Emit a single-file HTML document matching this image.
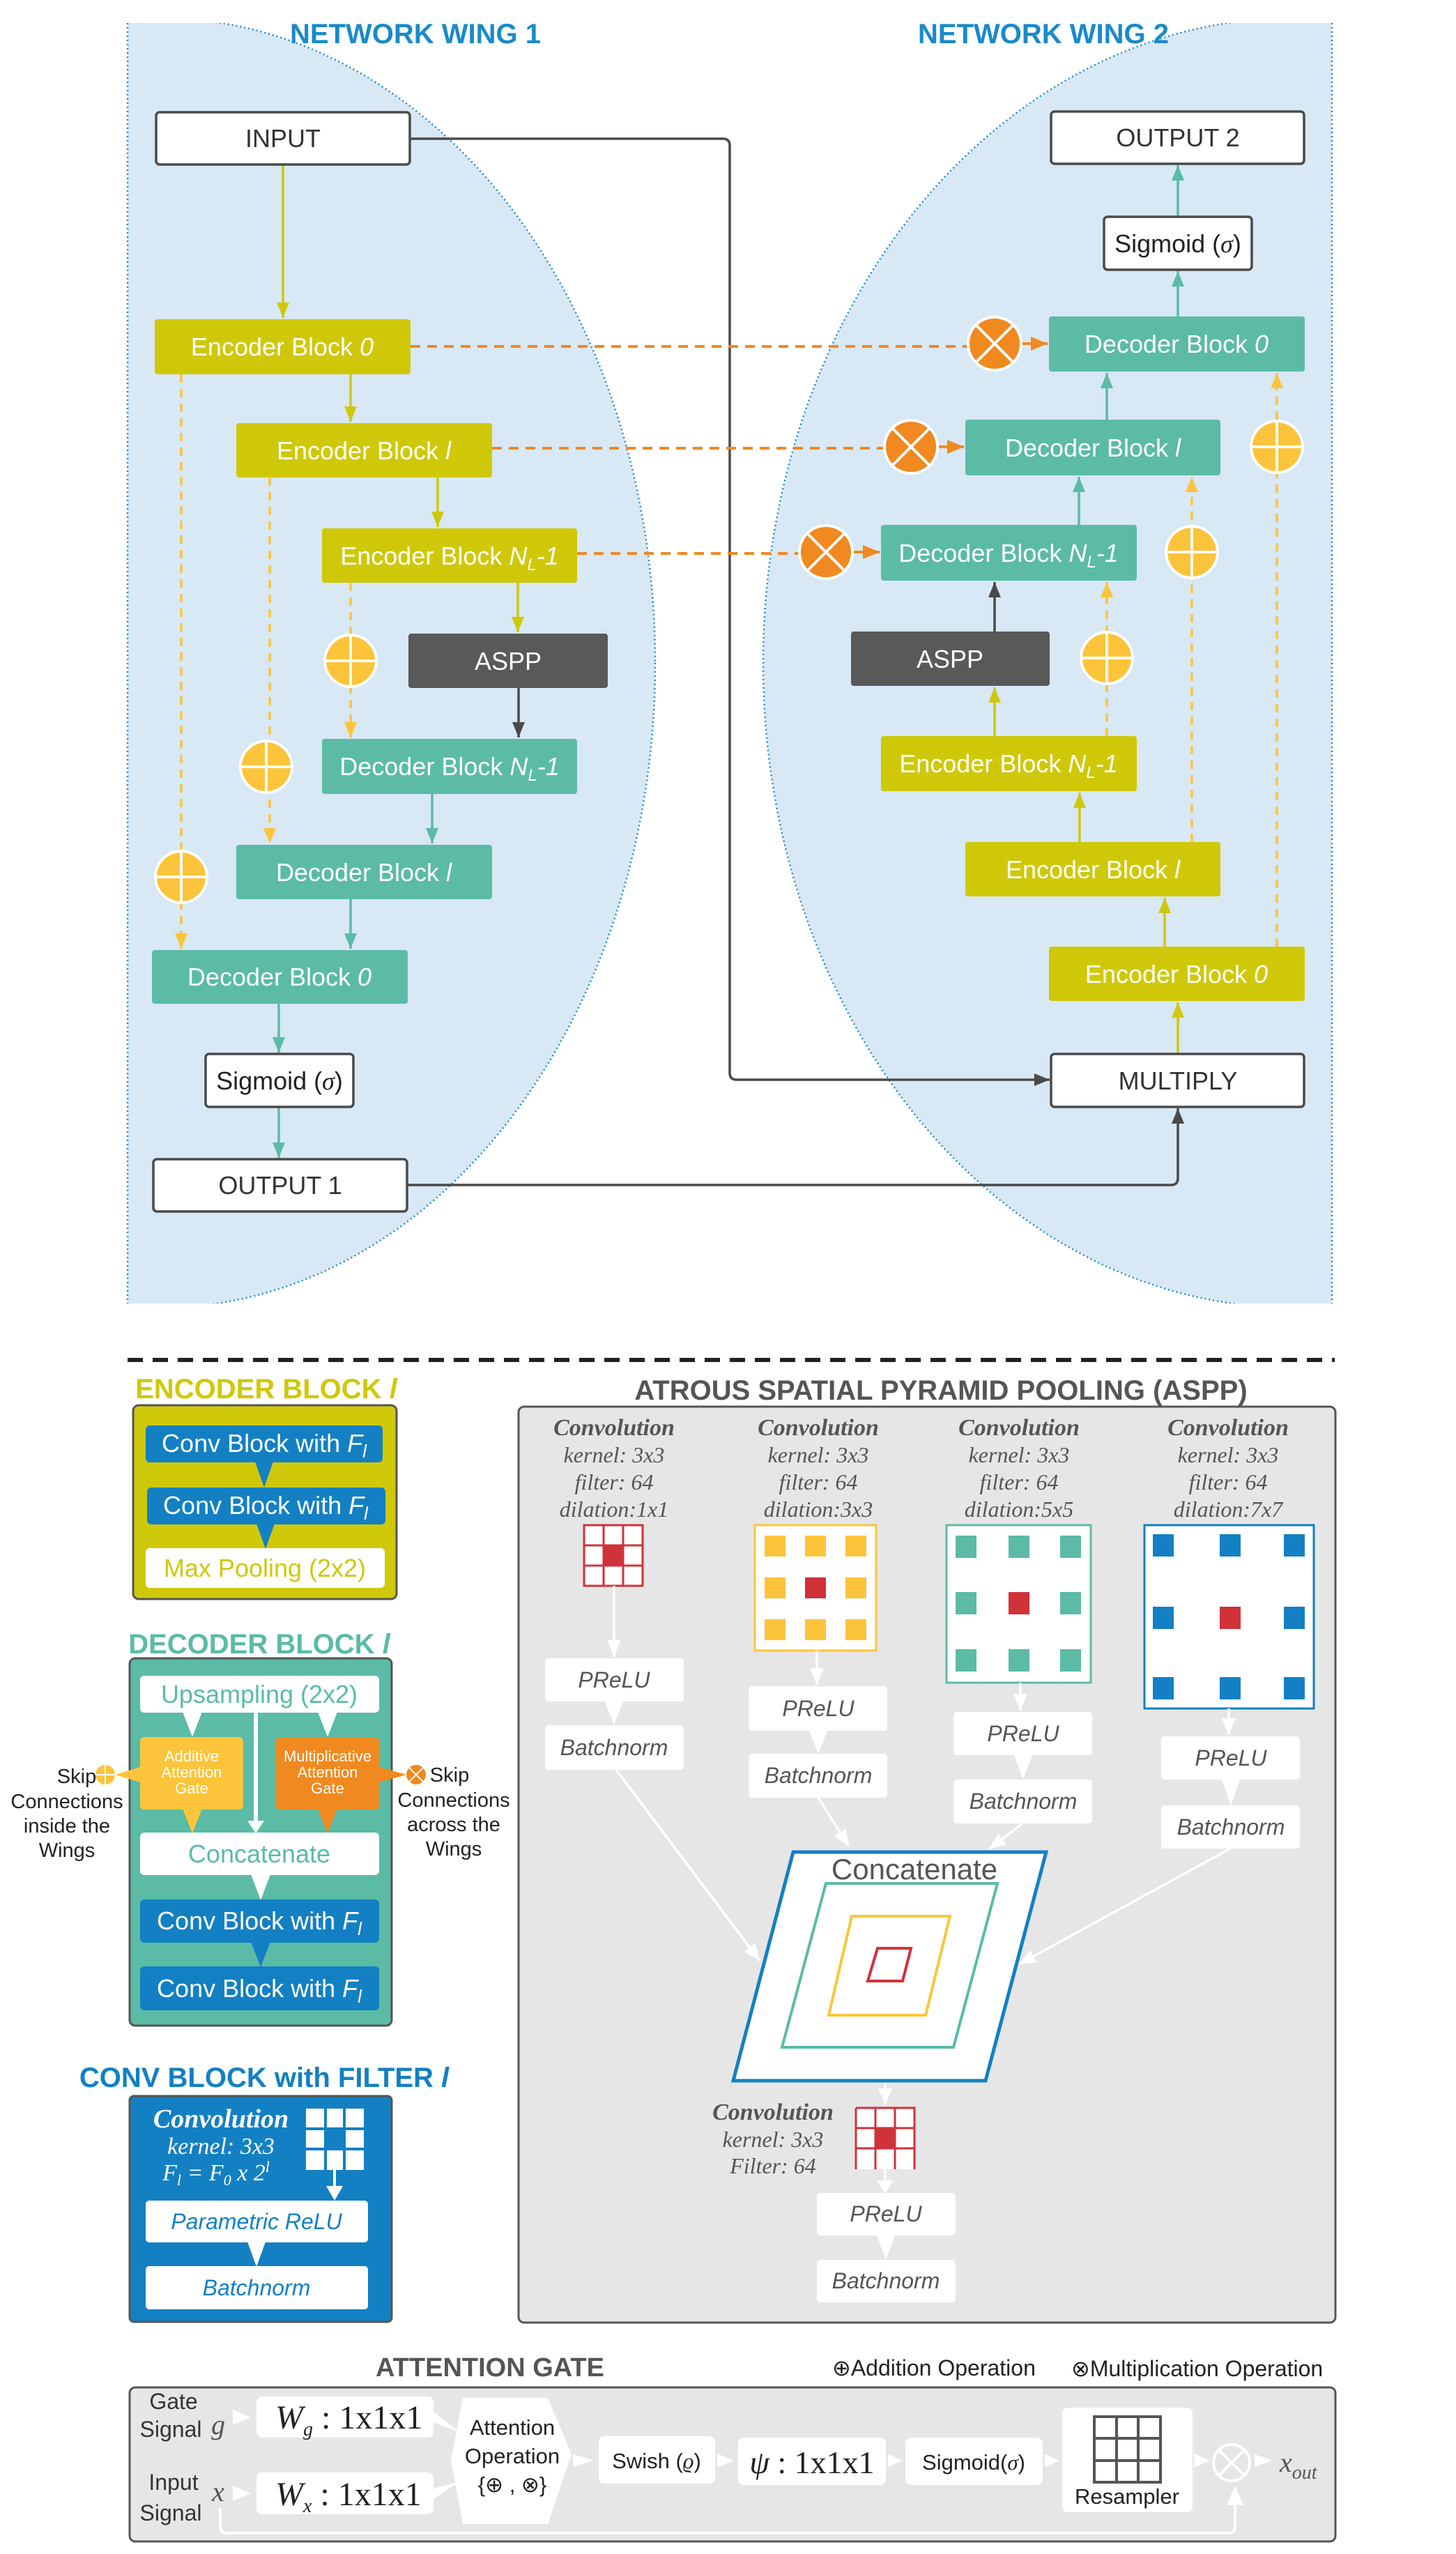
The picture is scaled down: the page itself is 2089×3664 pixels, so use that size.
<!DOCTYPE html>
<html><head><meta charset="utf-8"><style>
html,body{margin:0;padding:0;background:#fff}
svg{display:block}
text{font-family:"Liberation Sans",sans-serif}
.s{font-family:"Liberation Serif",serif}
</style></head><body>
<svg width="2089" height="3664" viewBox="0 0 2089 3664" xmlns="http://www.w3.org/2000/svg">
<defs>
<clipPath id="c1"><rect x="183" y="33" width="900" height="1837"/></clipPath>
<clipPath id="c2"><rect x="1000" y="33" width="911" height="1837"/></clipPath>
<marker id="aY" markerUnits="userSpaceOnUse" markerWidth="26" markerHeight="26" refX="22" refY="11" orient="auto"><path d="M0,2 L22,11 L0,20 Z" fill="#cfc809"/></marker>
<marker id="aT" markerUnits="userSpaceOnUse" markerWidth="26" markerHeight="26" refX="22" refY="11" orient="auto"><path d="M0,2 L22,11 L0,20 Z" fill="#5bbba5"/></marker>
<marker id="aG" markerUnits="userSpaceOnUse" markerWidth="26" markerHeight="26" refX="22" refY="11" orient="auto"><path d="M0,2 L22,11 L0,20 Z" fill="#4a4a4a"/></marker>
<marker id="aO" markerUnits="userSpaceOnUse" markerWidth="30" markerHeight="30" refX="24" refY="12" orient="auto"><path d="M0,2 L24,12 L0,22 Z" fill="#f0891f"/></marker>
<marker id="aP" markerUnits="userSpaceOnUse" markerWidth="26" markerHeight="26" refX="22" refY="11" orient="auto"><path d="M0,2 L22,11 L0,20 Z" fill="#fcc43a"/></marker>
<marker id="aW" markerUnits="userSpaceOnUse" markerWidth="30" markerHeight="30" refX="24" refY="12" orient="auto"><path d="M0,2 L24,12 L0,22 Z" fill="#fff"/></marker>
<g id="plus"><circle r="37" fill="#fcc43a" stroke="#fff" stroke-width="4"/><path d="M-37,0H37M0,-37V37" stroke="#fff" stroke-width="4"/></g>
<g id="mul"><circle r="38" fill="#f0891f" stroke="#fff" stroke-width="4"/><path d="M-27,-27L27,27M27,-27L-27,27" stroke="#fff" stroke-width="4"/></g>
</defs>

<!-- wings -->
<g clip-path="url(#c1)"><ellipse cx="230" cy="951" rx="710" ry="925" fill="#d8e8f5" stroke="#1a8ac9" stroke-width="2.5" stroke-dasharray="2,4"/></g>
<path d="M183,33V1870" stroke="#1a8ac9" stroke-width="2.5" stroke-dasharray="2,4"/>
<g clip-path="url(#c2)"><ellipse cx="1855" cy="951" rx="760" ry="925" fill="#d8e8f5" stroke="#1a8ac9" stroke-width="2.5" stroke-dasharray="2,4"/></g>
<path d="M1911,33V1870" stroke="#1a8ac9" stroke-width="2.5" stroke-dasharray="2,4"/>
<text x="596" y="62" font-size="40" font-weight="bold" fill="#1a8ac9" text-anchor="middle">NETWORK WING 1</text>
<text x="1497" y="62" font-size="40" font-weight="bold" fill="#1a8ac9" text-anchor="middle">NETWORK WING 2</text>

<!-- long connectors -->
<path d="M588,199H1037Q1047,199 1047,209V1539Q1047,1549 1057,1549H1506" fill="none" stroke="#4a4a4a" stroke-width="3.5" marker-end="url(#aG)"/>
<path d="M584,1700H1680Q1690,1700 1690,1690V1590" fill="none" stroke="#4a4a4a" stroke-width="3.5" marker-end="url(#aG)"/>

<!-- dashed skips -->
<g stroke="#fcc43a" stroke-width="3.5" stroke-dasharray="12,9" fill="none">
<path d="M260,537V1361" marker-end="url(#aP)"/>
<path d="M387,685V1210" marker-end="url(#aP)"/>
<path d="M503,836V1058" marker-end="url(#aP)"/>
<path d="M1832,1358V535" marker-end="url(#aP)"/>
<path d="M1710,1208V684" marker-end="url(#aP)"/>
<path d="M1588,1056V835" marker-end="url(#aP)"/>
</g>
<g stroke="#f0891f" stroke-width="4" stroke-dasharray="14,10" fill="none">
<path d="M589,497H1389"/><path d="M706,643H1269"/><path d="M828,794H1147"/>
</g>
<g stroke="#f0891f" stroke-width="4" fill="none">
<path d="M1465,493H1503" marker-end="url(#aO)"/><path d="M1345,641H1383" marker-end="url(#aO)"/><path d="M1223,792H1262" marker-end="url(#aO)"/>
</g>
<use href="#mul" x="1427" y="493"/><use href="#mul" x="1307" y="641"/><use href="#mul" x="1185" y="792"/>
<use href="#plus" x="503" y="948"/><use href="#plus" x="382" y="1100"/><use href="#plus" x="260" y="1258"/>
<use href="#plus" x="1832" y="641"/><use href="#plus" x="1710" y="792"/><use href="#plus" x="1588" y="944"/>

<!-- vertical arrows -->
<g stroke-width="3.5" fill="none">
<path d="M406,236V456" stroke="#cfc809" marker-end="url(#aY)"/>
<path d="M503,537V605" stroke="#cfc809" marker-end="url(#aY)"/>
<path d="M628,685V756" stroke="#cfc809" marker-end="url(#aY)"/>
<path d="M743,836V907" stroke="#cfc809" marker-end="url(#aY)"/>
<path d="M744,987V1058" stroke="#4a4a4a" marker-end="url(#aG)"/>
<path d="M620,1139V1210" stroke="#5bbba5" marker-end="url(#aT)"/>
<path d="M503,1290V1361" stroke="#5bbba5" marker-end="url(#aT)"/>
<path d="M400,1440V1510" stroke="#5bbba5" marker-end="url(#aT)"/>
<path d="M400,1588V1661" stroke="#5bbba5" marker-end="url(#aT)"/>
<path d="M1690,1512V1438" stroke="#cfc809" marker-end="url(#aY)"/>
<path d="M1671,1358V1288" stroke="#cfc809" marker-end="url(#aY)"/>
<path d="M1549,1208V1137" stroke="#cfc809" marker-end="url(#aY)"/>
<path d="M1427,1056V986" stroke="#cfc809" marker-end="url(#aY)"/>
<path d="M1427,906V835" stroke="#4a4a4a" marker-end="url(#aG)"/>
<path d="M1548,753V684" stroke="#5bbba5" marker-end="url(#aT)"/>
<path d="M1588,602V535" stroke="#5bbba5" marker-end="url(#aT)"/>
<path d="M1690,454V389" stroke="#5bbba5" marker-end="url(#aT)"/>
<path d="M1690,311V237" stroke="#5bbba5" marker-end="url(#aT)"/>
</g>

<!-- top boxes -->
<g font-size="36" text-anchor="middle">
<rect x="224" y="161" width="364" height="75" rx="5" fill="#fff" stroke="#4a4a4a" stroke-width="3.5"/><text x="406" y="211" fill="#333">INPUT</text>
<rect x="222" y="458" width="367" height="79" rx="4" fill="#cfc809"/><text x="405" y="510" fill="#fff">Encoder Block <tspan font-style="italic">0</tspan></text>
<rect x="339" y="607" width="367" height="78" rx="4" fill="#cfc809"/><text x="522" y="659" fill="#fff">Encoder Block <tspan font-style="italic">l</tspan></text>
<rect x="462" y="758" width="366" height="78" rx="4" fill="#cfc809"/><text x="645" y="810" fill="#fff">Encoder Block <tspan font-style="italic">N<tspan font-size="24" dy="8">L</tspan><tspan dy="-8">-1</tspan></tspan></text>
<rect x="586" y="909" width="286" height="78" rx="4" fill="#595959"/><text x="729" y="961" fill="#fff">ASPP</text>
<rect x="462" y="1060" width="366" height="79" rx="4" fill="#5bbba5"/><text x="645" y="1112" fill="#fff">Decoder Block <tspan font-style="italic">N<tspan font-size="24" dy="8">L</tspan><tspan dy="-8">-1</tspan></tspan></text>
<rect x="339" y="1212" width="367" height="78" rx="4" fill="#5bbba5"/><text x="522" y="1264" fill="#fff">Decoder Block <tspan font-style="italic">l</tspan></text>
<rect x="218" y="1363" width="367" height="77" rx="4" fill="#5bbba5"/><text x="401" y="1414" fill="#fff">Decoder Block <tspan font-style="italic">0</tspan></text>
<rect x="295" y="1512" width="212" height="76" rx="5" fill="#fff" stroke="#4a4a4a" stroke-width="3.5"/><text x="401" y="1563" fill="#222">Sigmoid (<tspan class="s" font-style="italic">σ</tspan>)</text>
<rect x="220" y="1663" width="364" height="75" rx="5" fill="#fff" stroke="#4a4a4a" stroke-width="3.5"/><text x="402" y="1713" fill="#333">OUTPUT 1</text>

<rect x="1508" y="160" width="363" height="75" rx="5" fill="#fff" stroke="#4a4a4a" stroke-width="3.5"/><text x="1690" y="210" fill="#333">OUTPUT 2</text>
<rect x="1584" y="311" width="212" height="76" rx="5" fill="#fff" stroke="#4a4a4a" stroke-width="3.5"/><text x="1690" y="362" fill="#222">Sigmoid (<tspan class="s" font-style="italic">σ</tspan>)</text>
<rect x="1505" y="454" width="367" height="79" rx="4" fill="#5bbba5"/><text x="1688" y="506" fill="#fff">Decoder Block <tspan font-style="italic">0</tspan></text>
<rect x="1385" y="602" width="366" height="80" rx="4" fill="#5bbba5"/><text x="1568" y="655" fill="#fff">Decoder Block <tspan font-style="italic">l</tspan></text>
<rect x="1264" y="753" width="367" height="80" rx="4" fill="#5bbba5"/><text x="1447" y="806" fill="#fff">Decoder Block <tspan font-style="italic">N<tspan font-size="24" dy="8">L</tspan><tspan dy="-8">-1</tspan></tspan></text>
<rect x="1221" y="906" width="285" height="78" rx="4" fill="#595959"/><text x="1363" y="958" fill="#fff">ASPP</text>
<rect x="1264" y="1056" width="367" height="79" rx="4" fill="#cfc809"/><text x="1447" y="1108" fill="#fff">Encoder Block <tspan font-style="italic">N<tspan font-size="24" dy="8">L</tspan><tspan dy="-8">-1</tspan></tspan></text>
<rect x="1385" y="1208" width="366" height="78" rx="4" fill="#cfc809"/><text x="1568" y="1260" fill="#fff">Encoder Block <tspan font-style="italic">l</tspan></text>
<rect x="1505" y="1358" width="367" height="78" rx="4" fill="#cfc809"/><text x="1688" y="1410" fill="#fff">Encoder Block <tspan font-style="italic">0</tspan></text>
<rect x="1508" y="1512" width="363" height="76" rx="5" fill="#fff" stroke="#4a4a4a" stroke-width="3.5"/><text x="1690" y="1563" fill="#333">MULTIPLY</text>
</g>

<!-- separator -->
<path d="M183,1951H1915" stroke="#222" stroke-width="6" stroke-dasharray="22,14"/>

<!-- ENCODER BLOCK -->
<text x="382" y="2006" font-size="40" font-weight="bold" fill="#cfc809" text-anchor="middle">ENCODER BLOCK <tspan font-style="italic">l</tspan></text>
<rect x="191" y="2016" width="378" height="278" rx="8" fill="#cfc809" stroke="#555" stroke-width="3"/>
<rect x="209" y="2045" width="340" height="53" rx="6" fill="#1380c3"/>
<path d="M366,2097L392,2097L379,2134Z" fill="#1380c3"/>
<rect x="211" y="2134" width="342" height="53" rx="6" fill="#1380c3"/>
<path d="M368,2186L394,2186L381,2222Z" fill="#1380c3"/>
<rect x="209" y="2221" width="343" height="57" rx="6" fill="#fff"/>
<g font-size="36" text-anchor="middle">
<text x="379" y="2083" fill="#fff">Conv Block with <tspan font-style="italic">F<tspan font-size="26" dy="8">l</tspan></tspan></text>
<text x="381" y="2172" fill="#fff">Conv Block with <tspan font-style="italic">F<tspan font-size="26" dy="8">l</tspan></tspan></text>
<text x="380" y="2262" fill="#cfc809">Max Pooling (2x2)</text>
</g>

<!-- DECODER BLOCK -->
<text x="372" y="2372" font-size="40" font-weight="bold" fill="#5bbba5" text-anchor="middle">DECODER BLOCK <tspan font-style="italic">l</tspan></text>
<rect x="186" y="2379" width="376" height="527" rx="8" fill="#5bbba5" stroke="#555" stroke-width="3"/>
<rect x="201" y="2404" width="343" height="53" rx="6" fill="#fff"/>
<path d="M262,2456L290,2456L276,2492Z" fill="#fff"/><path d="M456,2456L484,2456L470,2492Z" fill="#fff"/>
<path d="M367,2457V2615" stroke="#fff" stroke-width="6"/><path d="M355,2612L379,2612L367,2630Z" fill="#fff"/>
<rect x="201" y="2492" width="148" height="104" rx="6" fill="#fcc43a"/>
<rect x="396" y="2492" width="148" height="104" rx="6" fill="#f0891f"/>
<path d="M262,2595L290,2595L276,2630Z" fill="#fcc43a"/><path d="M456,2595L484,2595L470,2630Z" fill="#f0891f"/>
<rect x="201" y="2629" width="343" height="61" rx="6" fill="#fff"/>
<path d="M360,2689L388,2689L374,2726Z" fill="#fff"/>
<rect x="201" y="2725" width="343" height="62" rx="6" fill="#1380c3"/>
<path d="M360,2786L388,2786L374,2822Z" fill="#1380c3"/>
<rect x="201" y="2821" width="343" height="63" rx="6" fill="#1380c3"/>
<g text-anchor="middle">
<text x="372" y="2443" font-size="36" fill="#5bbba5">Upsampling (2x2)</text>
<text x="275" y="2527" font-size="22" fill="#fff">Additive</text><text x="275" y="2550" font-size="22" fill="#fff">Attention</text><text x="275" y="2573" font-size="22" fill="#fff">Gate</text>
<text x="470" y="2527" font-size="22" fill="#fff">Multiplicative</text><text x="470" y="2550" font-size="22" fill="#fff">Attention</text><text x="470" y="2573" font-size="22" fill="#fff">Gate</text>
<text x="372" y="2672" font-size="36" fill="#5bbba5">Concatenate</text>
<text x="372" y="2768" font-size="36" fill="#fff">Conv Block with <tspan font-style="italic">F<tspan font-size="26" dy="8">l</tspan></tspan></text>
<text x="372" y="2865" font-size="36" fill="#fff">Conv Block with <tspan font-style="italic">F<tspan font-size="26" dy="8">l</tspan></tspan></text>
</g>
<!-- side labels -->
<path d="M165,2546L201,2535L201,2557Z" fill="#fcc43a"/>
<circle cx="151" cy="2546" r="15" fill="#fcc43a" stroke="#fff" stroke-width="2"/><path d="M136,2546H166M151,2531V2561" stroke="#fff" stroke-width="2"/>
<path d="M583,2546L544,2535L544,2557Z" fill="#f0891f"/>
<circle cx="597" cy="2546" r="15" fill="#f0891f" stroke="#fff" stroke-width="2"/><path d="M587,2536L607,2556M607,2536L587,2556" stroke="#fff" stroke-width="2"/>
<g font-size="29" fill="#222" text-anchor="middle">
<text x="110" y="2558">Skip</text><text x="96" y="2594">Connections</text><text x="96" y="2629">inside the</text><text x="96" y="2664">Wings</text>
<text x="645" y="2556">Skip</text><text x="651" y="2592">Connections</text><text x="651" y="2627">across the</text><text x="651" y="2662">Wings</text>
</g>

<!-- CONV BLOCK -->
<text x="379" y="2994" font-size="40" font-weight="bold" fill="#1380c3" text-anchor="middle">CONV BLOCK with FILTER <tspan font-style="italic">l</tspan></text>
<rect x="186" y="3007" width="376" height="324" rx="6" fill="#1380c3" stroke="#555" stroke-width="3"/>
<g class="s" font-style="italic" fill="#fff" text-anchor="middle">
<text x="317" y="3052" font-size="38" font-weight="bold" class="s">Convolution</text>
<text x="317" y="3090" font-size="34" class="s">kernel: 3x3</text>
<text x="310" y="3128" font-size="34" class="s">F<tspan font-size="22" dy="7">l</tspan><tspan dy="-7"> = F</tspan><tspan font-size="22" dy="7">0</tspan><tspan dy="-7"> x 2</tspan><tspan font-size="22" dy="-12">l</tspan></text>
</g>
<g fill="#fff"><rect x="439" y="3025" width="83" height="88"/></g>
<g stroke="#1380c3" stroke-width="4" fill="none"><path d="M467,3025V3113M494,3025V3113M439,3054H522M439,3083H522"/></g>
<rect x="469" y="3056" width="23" height="25" fill="#1380c3"/>
<path d="M480,3113V3140" stroke="#fff" stroke-width="4"/><path d="M468,3136L492,3136L480,3157Z" fill="#fff"/>
<rect x="209" y="3157" width="319" height="60" rx="5" fill="#fff"/>
<path d="M355,3216L381,3216L368,3252Z" fill="#fff"/>
<rect x="209" y="3251" width="319" height="62" rx="5" fill="#fff"/>
<text x="368" y="3198" font-size="32" font-style="italic" fill="#1380c3" text-anchor="middle">Parametric ReLU</text>
<text x="368" y="3293" font-size="32" font-style="italic" fill="#1380c3" text-anchor="middle">Batchnorm</text>

<!-- ASPP -->
<text x="1350" y="2008" font-size="40" font-weight="bold" fill="#555" text-anchor="middle">ATROUS SPATIAL PYRAMID POOLING (ASPP)</text>
<rect x="744" y="2018" width="1172" height="1314" rx="8" fill="#e6e6e6" stroke="#555" stroke-width="3"/>
<g class="s" font-style="italic" fill="#555" text-anchor="middle" font-size="32">
<text x="881" y="2059" font-weight="bold" font-size="34" class="s">Convolution</text><text x="881" y="2098" class="s">kernel: 3x3</text><text x="881" y="2137" class="s">filter: 64</text><text x="881" y="2176" class="s">dilation:1x1</text>
<text x="1174" y="2059" font-weight="bold" font-size="34" class="s">Convolution</text><text x="1174" y="2098" class="s">kernel: 3x3</text><text x="1174" y="2137" class="s">filter: 64</text><text x="1174" y="2176" class="s">dilation:3x3</text>
<text x="1462" y="2059" font-weight="bold" font-size="34" class="s">Convolution</text><text x="1462" y="2098" class="s">kernel: 3x3</text><text x="1462" y="2137" class="s">filter: 64</text><text x="1462" y="2176" class="s">dilation:5x5</text>
<text x="1762" y="2059" font-weight="bold" font-size="34" class="s">Convolution</text><text x="1762" y="2098" class="s">kernel: 3x3</text><text x="1762" y="2137" class="s">filter: 64</text><text x="1762" y="2176" class="s">dilation:7x7</text>
</g>
<!-- grid1 -->
<rect x="838" y="2188" width="84" height="87" fill="#fff" stroke="#d0323a" stroke-width="3"/>
<rect x="866" y="2217" width="28" height="29" fill="#d0323a"/>
<path d="M866,2188V2275M894,2188V2275M838,2217H922M838,2246H922" stroke="#d0323a" stroke-width="3"/>
<!-- grid2 -->
<rect x="1083" y="2188" width="174" height="180" fill="#fff" stroke="#fcc43a" stroke-width="3"/>
<g fill="#fcc43a"><rect x="1097" y="2203" width="30" height="30"/><rect x="1155" y="2203" width="30" height="30"/><rect x="1213" y="2203" width="30" height="30"/><rect x="1097" y="2263" width="30" height="30"/><rect x="1213" y="2263" width="30" height="30"/><rect x="1097" y="2323" width="30" height="30"/><rect x="1155" y="2323" width="30" height="30"/><rect x="1213" y="2323" width="30" height="30"/></g>
<rect x="1155" y="2263" width="30" height="30" fill="#d0323a"/>
<!-- grid3 -->
<rect x="1358" y="2188" width="207" height="226" fill="#fff" stroke="#5bbba5" stroke-width="3"/>
<g fill="#5bbba5"><rect x="1371" y="2203" width="30" height="32"/><rect x="1447" y="2203" width="30" height="32"/><rect x="1521" y="2203" width="30" height="32"/><rect x="1371" y="2284" width="30" height="32"/><rect x="1521" y="2284" width="30" height="32"/><rect x="1371" y="2366" width="30" height="32"/><rect x="1447" y="2366" width="30" height="32"/><rect x="1521" y="2366" width="30" height="32"/></g>
<rect x="1447" y="2284" width="30" height="32" fill="#d0323a"/>
<!-- grid4 -->
<rect x="1642" y="2188" width="243" height="263" fill="#fff" stroke="#1380c3" stroke-width="3"/>
<g fill="#1380c3"><rect x="1654" y="2201" width="30" height="32"/><rect x="1750" y="2201" width="30" height="32"/><rect x="1842" y="2201" width="30" height="32"/><rect x="1654" y="2305" width="30" height="32"/><rect x="1842" y="2305" width="30" height="32"/><rect x="1654" y="2406" width="30" height="32"/><rect x="1750" y="2406" width="30" height="32"/><rect x="1842" y="2406" width="30" height="32"/></g>
<rect x="1750" y="2305" width="30" height="32" fill="#d0323a"/>
<!-- arrows into PReLU -->
<g stroke="#fff" stroke-width="3.5" fill="none">
<path d="M881,2275V2377" marker-end="url(#aW)"/>
<path d="M1172,2368V2417" marker-end="url(#aW)"/>
<path d="M1464,2414V2454" marker-end="url(#aW)"/>
<path d="M1763,2451V2489" marker-end="url(#aW)"/>
<path d="M884,2539L1090,2813" marker-end="url(#aW)"/>
<path d="M1174,2579L1218,2649" marker-end="url(#aW)"/>
<path d="M1467,2616L1419,2653" marker-end="url(#aW)"/>
<path d="M1765,2652L1462,2818" marker-end="url(#aW)"/>
<path d="M1270,2985V3020" marker-end="url(#aW)"/>
</g>
<g fill="#fff">
<rect x="782" y="2379" width="199" height="62" rx="5"/><rect x="782" y="2475" width="199" height="64" rx="5"/>
<path d="M868,2441L894,2441L881,2475Z"/>
<rect x="1074" y="2419" width="199" height="64" rx="5"/><rect x="1074" y="2516" width="199" height="63" rx="5"/>
<path d="M1161,2483L1187,2483L1174,2516Z"/>
<rect x="1368" y="2456" width="199" height="62" rx="5"/><rect x="1368" y="2553" width="199" height="63" rx="5"/>
<path d="M1455,2518L1481,2518L1468,2553Z"/>
<rect x="1666" y="2491" width="199" height="62" rx="5"/><rect x="1666" y="2590" width="199" height="62" rx="5"/>
<path d="M1753,2553L1779,2553L1766,2590Z"/>
</g>
<g font-size="32" font-style="italic" fill="#555" text-anchor="middle">
<text x="881" y="2421">PReLU</text><text x="881" y="2518">Batchnorm</text>
<text x="1174" y="2462">PReLU</text><text x="1174" y="2558">Batchnorm</text>
<text x="1468" y="2498">PReLU</text><text x="1468" y="2595">Batchnorm</text>
<text x="1766" y="2533">PReLU</text><text x="1766" y="2632">Batchnorm</text>
</g>
<!-- parallelogram -->
<path d="M1138,2657L1501,2657L1414,2985L1052,2985Z" fill="#fff" stroke="#1380c3" stroke-width="5"/>
<path d="M1185,2702L1431,2702L1368,2937L1122,2937Z" fill="none" stroke="#5bbba5" stroke-width="4"/>
<path d="M1222,2749L1363,2749L1328,2891L1189,2891Z" fill="none" stroke="#fcc43a" stroke-width="4"/>
<path d="M1259,2795L1307,2795L1295,2842L1245,2842Z" fill="none" stroke="#d0323a" stroke-width="4"/>
<text x="1312" y="2696" font-size="42" fill="#555" text-anchor="middle">Concatenate</text>
<!-- bottom conv -->
<g class="s" font-style="italic" fill="#555" text-anchor="middle" font-size="32">
<text x="1109" y="3041" font-weight="bold" font-size="34" class="s">Convolution</text><text x="1109" y="3080" class="s">kernel: 3x3</text><text x="1109" y="3118" class="s">Filter: 64</text>
</g>
<rect x="1228" y="3024" width="84" height="88" fill="#fff"/>
<rect x="1256" y="3053" width="28" height="29" fill="#d0323a"/>
<path d="M1228,3024H1312V3112M1228,3024V3112M1256,3024V3112M1284,3024V3112M1228,3053H1312M1228,3082H1312" stroke="#d0323a" stroke-width="3" fill="none"/>
<path d="M1270,3112V3130" stroke="#fff" stroke-width="3.5"/><path d="M1258,3128L1282,3128L1270,3147Z" fill="#fff"/>
<rect x="1172" y="3146" width="199" height="61" rx="5" fill="#fff"/>
<path d="M1258,3207L1284,3207L1271,3242Z" fill="#fff"/>
<rect x="1172" y="3242" width="199" height="61" rx="5" fill="#fff"/>
<g font-size="32" font-style="italic" fill="#555" text-anchor="middle"><text x="1271" y="3187">PReLU</text><text x="1271" y="3283">Batchnorm</text></g>

<!-- ATTENTION GATE -->
<text x="703" y="3409" font-size="38" font-weight="bold" fill="#555" text-anchor="middle">ATTENTION GATE</text>
<text x="1194" y="3408" font-size="32" fill="#222">⊕Addition Operation</text>
<text x="1537" y="3409" font-size="32" fill="#222">⊗Multiplication Operation</text>
<rect x="186" y="3425" width="1730" height="221" rx="8" fill="#e6e6e6" stroke="#555" stroke-width="3"/>
<g font-size="32" fill="#333" text-anchor="middle">
<text x="249" y="3456">Gate</text><text x="245" y="3496">Signal</text>
<text x="249" y="3572">Input</text><text x="245" y="3616">Signal</text>
</g>
<text x="313" y="3492" font-size="40" font-style="italic" fill="#555" class="s" text-anchor="middle">g</text>
<text x="313" y="3588" font-size="40" font-style="italic" fill="#555" class="s" text-anchor="middle">x</text>
<path d="M316,3598V3624Q316,3634 326,3634H1762Q1772,3634 1772,3624V3592" fill="none" stroke="#fff" stroke-width="4"/>
<path d="M1760,3594L1784,3594L1772,3566Z" fill="#fff"/>
<g fill="#fff">
<path d="M334,3457L360,3468L334,3479Z"/><path d="M334,3566L360,3577L334,3588Z"/>
<rect x="368" y="3438" width="254" height="59" rx="8"/>
<rect x="368" y="3547" width="254" height="60" rx="8"/>
<path d="M622,3460L660,3490L622,3475Z"/><path d="M622,3570L660,3560L622,3585Z"/>
<path d="M664,3440L786,3440L820,3521L786,3621L664,3621L647,3530Z"/>
<path d="M822,3521L852,3530L822,3539Z"/>
<rect x="859" y="3495" width="167" height="68" rx="8"/>
<path d="M1029,3520L1053,3530L1029,3540Z"/>
<rect x="1059" y="3497" width="212" height="68" rx="8"/>
<path d="M1274,3521L1295,3530L1274,3539Z"/>
<rect x="1299" y="3497" width="197" height="68" rx="8"/>
<path d="M1499,3521L1520,3530L1499,3539Z"/>
<rect x="1524" y="3454" width="187" height="150" rx="8"/>
<path d="M1713,3520L1736,3530L1713,3540Z"/>
<path d="M1800,3521L1826,3530L1800,3539Z"/>
</g>
<circle cx="1767" cy="3533" r="26" fill="none" stroke="#fff" stroke-width="4"/>
<path d="M1749,3515L1785,3551M1785,3515L1749,3551" stroke="#fff" stroke-width="4"/>
<g stroke="#555" stroke-width="4" fill="none"><rect x="1570" y="3467" width="95" height="94"/><path d="M1602,3467V3561M1633,3467V3561M1570,3498H1665M1570,3530H1665"/></g>
<g class="s" fill="#222">
<text x="395" y="3484" font-size="48" font-style="italic" class="s">W<tspan font-size="28" dy="10">g</tspan><tspan dy="-10" font-style="normal"> : 1x1x1</tspan></text>
<text x="395" y="3594" font-size="48" font-style="italic" class="s">W<tspan font-size="28" dy="10">x</tspan><tspan dy="-10" font-style="normal"> : 1x1x1</tspan></text>
<text x="1165" y="3548" font-size="46" font-style="italic" text-anchor="middle" class="s">ψ<tspan font-style="normal"> : 1x1x1</tspan></text>
</g>
<g font-size="31" fill="#222" text-anchor="middle">
<text x="735" y="3493">Attention</text><text x="735" y="3534">Operation</text>
<text x="735" y="3575">{⊕ , ⊗}</text>
<text x="942" y="3541">Swish (<tspan class="s" font-style="italic">ϱ</tspan>)</text>
<text x="1397" y="3543">Sigmoid(<tspan class="s" font-style="italic">σ</tspan>)</text>
<text x="1617" y="3592">Resampler</text>
</g>
<text x="1836" y="3546" font-size="40" font-style="italic" fill="#555" class="s">x<tspan font-size="28" dy="10">out</tspan></text>
</svg>
</body></html>
